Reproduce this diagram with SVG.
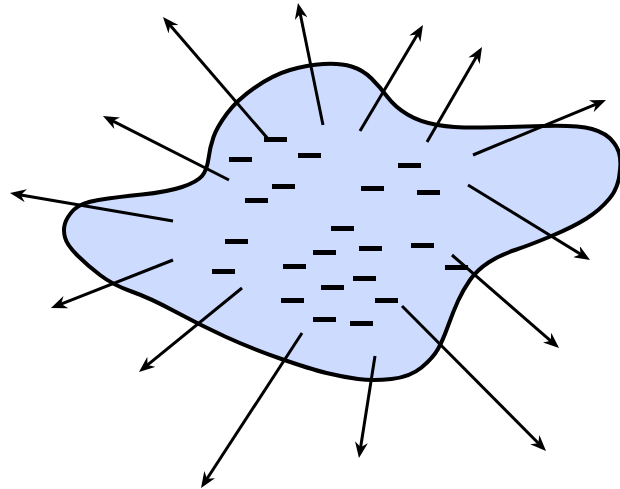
<svg xmlns="http://www.w3.org/2000/svg" width="620" height="489" viewBox="0 0 620 489">
<style>
.blob{fill:#cddbff;stroke:#000;stroke-width:4;stroke-linejoin:round}
.q{fill:#000}
.arr{stroke:#000;stroke-width:3;fill:none;marker-end:url(#ah)}
</style>
<defs>
<marker id="ah" viewBox="0 0 16 13" refX="8" refY="6.5" markerWidth="16" markerHeight="13" markerUnits="userSpaceOnUse" orient="auto">
<path d="M0,0 L16,6.5 L0,13 L5,6.5 Z" fill="#000"/>
</marker>
</defs>
<rect width="620" height="489" fill="#fff"/>
<g id="body">
<path class="blob" d="M290,70 Q307,65 323.5,64 Q340,63 351.5,66.5 Q363,70 371.5,78.5 Q380,87 387.5,97 Q395,107 407.5,114.5 Q420,122 437.5,125 Q455,128 482.5,127.5 Q510,127 543.5,126 Q577,125 592,129 Q607,133 614,143 Q622,153 620,170 Q619,187 609.5,198.5 Q600,210 586.5,218.5 Q573,227 551.5,236 Q530,245 515,250 Q500,255 488.5,262.5 Q477,270 470,280 Q463,290 458,301 Q453,312 448,326 Q443,340 438,349 Q433,358 421.5,367.5 Q410,377 391.5,379 Q373,381 358,379 Q343,377 326.5,373 Q310,369 280,358.5 Q250,348 225,336.5 Q200,325 175,311.5 Q150,298 131.5,291.5 Q113,285 100,275 Q87,265 77,255 Q67,245 65,237.5 Q63,230 65,223.5 Q67,217 73.5,210 Q80,203 98.5,200 Q117,197 142,194.5 Q167,192 182,187 Q197,182 202,176 Q207,170 208.5,158.5 Q210,147 213.5,137 Q217,127 227,113.5 Q237,100 255,87.5 Q273,75 290,70 Z"/>
</g>
<g id="charges">
<rect class="q" x="264" y="137" width="23" height="5"/>
<rect class="q" x="229" y="157" width="23" height="5"/>
<rect class="q" x="298" y="153" width="23" height="5"/>
<rect class="q" x="272" y="184" width="23" height="5"/>
<rect class="q" x="245" y="198" width="23" height="5"/>
<rect class="q" x="361" y="186" width="23" height="5"/>
<rect class="q" x="398" y="163" width="23" height="5"/>
<rect class="q" x="417" y="190" width="23" height="5"/>
<rect class="q" x="331" y="226" width="23" height="5"/>
<rect class="q" x="225" y="239" width="23" height="5"/>
<rect class="q" x="411" y="243" width="23" height="5"/>
<rect class="q" x="313" y="250" width="23" height="5"/>
<rect class="q" x="359" y="246" width="23" height="5"/>
<rect class="q" x="283" y="264" width="23" height="5"/>
<rect class="q" x="212" y="269" width="23" height="5"/>
<rect class="q" x="353" y="276" width="23" height="5"/>
<rect class="q" x="321" y="285" width="23" height="5"/>
<rect class="q" x="445" y="265" width="23" height="5"/>
<rect class="q" x="281" y="298" width="23" height="5"/>
<rect class="q" x="375" y="298" width="23" height="5"/>
<rect class="q" x="313" y="317" width="23" height="5"/>
<rect class="q" x="350" y="321" width="23" height="5"/>
</g>
<g id="connectors">
<line class="arr" x1="269" y1="140" x2="168.2" y2="23.1"/>
<line class="arr" x1="229" y1="180" x2="110.1" y2="119.6"/>
<line class="arr" x1="173" y1="221" x2="17.9" y2="194.4"/>
<line class="arr" x1="173" y1="260" x2="58.4" y2="305.1"/>
<line class="arr" x1="242" y1="288" x2="145.2" y2="366.9"/>
<line class="arr" x1="302" y1="333" x2="205.4" y2="481.3"/>
<line class="arr" x1="375" y1="356" x2="360.2" y2="450.1"/>
<line class="arr" x1="402" y1="306" x2="540.4" y2="445.3"/>
<line class="arr" x1="452" y1="255" x2="553" y2="342.8"/>
<line class="arr" x1="468" y1="185" x2="583.2" y2="255.8"/>
<line class="arr" x1="473" y1="155" x2="598.6" y2="103.1"/>
<line class="arr" x1="427" y1="142" x2="478" y2="53.9"/>
<line class="arr" x1="360" y1="131" x2="418.9" y2="31.9"/>
<line class="arr" x1="323" y1="125" x2="299.6" y2="10.8"/>
</g>
</svg>
